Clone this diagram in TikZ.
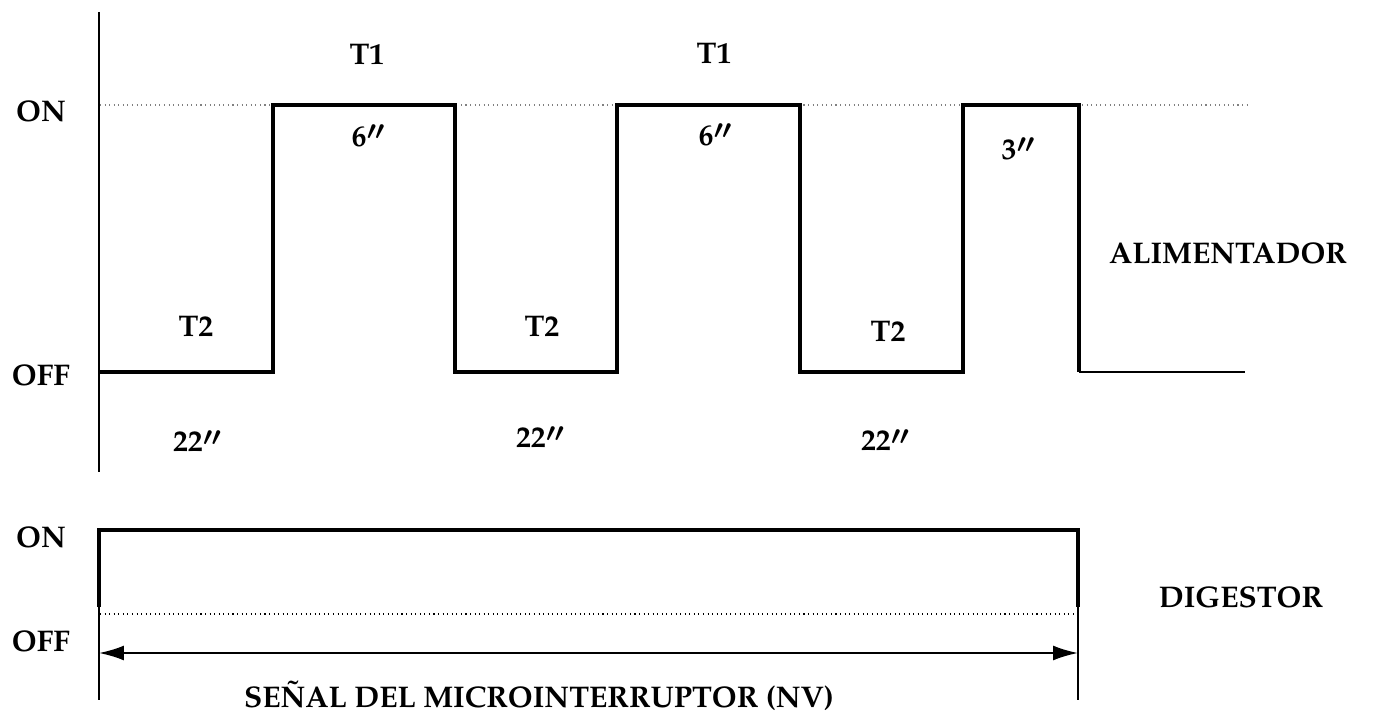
\documentclass[tikz,border=0pt]{standalone}
\usepackage[T1]{fontenc}
\usepackage{mathpazo}
\usetikzlibrary{arrows.meta}

\newcommand{\tsec}[1]{#1\raisebox{0.45ex}{\scalebox{0.85}{\boldmath$\prime\mkern-1mu\prime$}}}

\begin{document}
\begin{tikzpicture}[x=0.02cm, y=-0.02cm, line join=miter,
  every node/.style={font=\fontsize{17}{21}\selectfont\bfseries, inner sep=0pt},
  signal/.style={line width=2.8pt},
  thin line/.style={line width=1.1pt},
  guide/.style={line width=0.6pt, dotted}]
\useasboundingbox (0,0) rectangle (1373,716);

% feeder signal
\coordinate (A0) at (100,372);
\coordinate (A1) at (273,372);
\coordinate (A2) at (273,105);
\coordinate (A3) at (455,105);
\coordinate (A4) at (455,372);
\coordinate (A5) at (617,372);
\coordinate (A6) at (617,105);
\coordinate (A7) at (800,105);
\coordinate (A8) at (800,372);
\coordinate (A9) at (963,372);
\coordinate (A10) at (963,105);
\coordinate (A11) at (1079,105);
\coordinate (A12) at (1079,372);
\coordinate (Aend) at (1245,372);
\draw[thin line] (99,12)--(99,472);
\draw[guide, gray] (100,105)--(1250,105);
\draw[signal] (A0)--(A1)--(A2)--(A3)--(A4)--(A5)--(A6)--(A7)--(A8)--(A9)--(A10)--(A11)--(A12);
\draw[thin line] (A12)--(Aend);

\node (on1)  at (41,111) {ON};
\node (off1) at (41,375) {OFF};
\node (t1a) at (367,55) {T1};
\node (t1b) at (714,54) {T1};
\node (s6a) at (368,136) {\tsec{6}};
\node (s6b) at (715,135) {\tsec{6}};
\node (s3)  at (1018,149) {\tsec{3}};
\node (t2a) at (196,327) {T2};
\node (t2b) at (542,327) {T2};
\node (t2c) at (888,332) {T2};
\node (s22a) at (197,441) {\tsec{22}};
\node (s22b) at (540,437) {\tsec{22}};
\node (s22c) at (885,440) {\tsec{22}};
\node (alim) at (1228,253) {ALIMENTADOR};

% digester signal
\coordinate (D0) at (99,607);
\coordinate (D1) at (99,530);
\coordinate (D2) at (1078,530);
\coordinate (D3) at (1078,607);
\coordinate (L) at (99,653);
\coordinate (R) at (1078,653);
\draw[signal] (D0)--(D1)--(D2)--(D3);
\draw[thin line] (D0)--(99,700) (D3)--(1078,700);
\draw[guide] (100,614)--(1078,614);
\draw[thin line, {Latex[length=0.5cm,width=0.3cm]}-{Latex[length=0.5cm,width=0.3cm]}] (L)--(R);

\node (on2)  at (41,537) {ON};
\node (off2) at (41,641) {OFF};
\node (dig)  at (1241,597) {DIGESTOR};
\node (nv)   at (539,696) {SE\~NAL DEL MICROINTERRUPTOR (NV)};
\end{tikzpicture}
\end{document}
